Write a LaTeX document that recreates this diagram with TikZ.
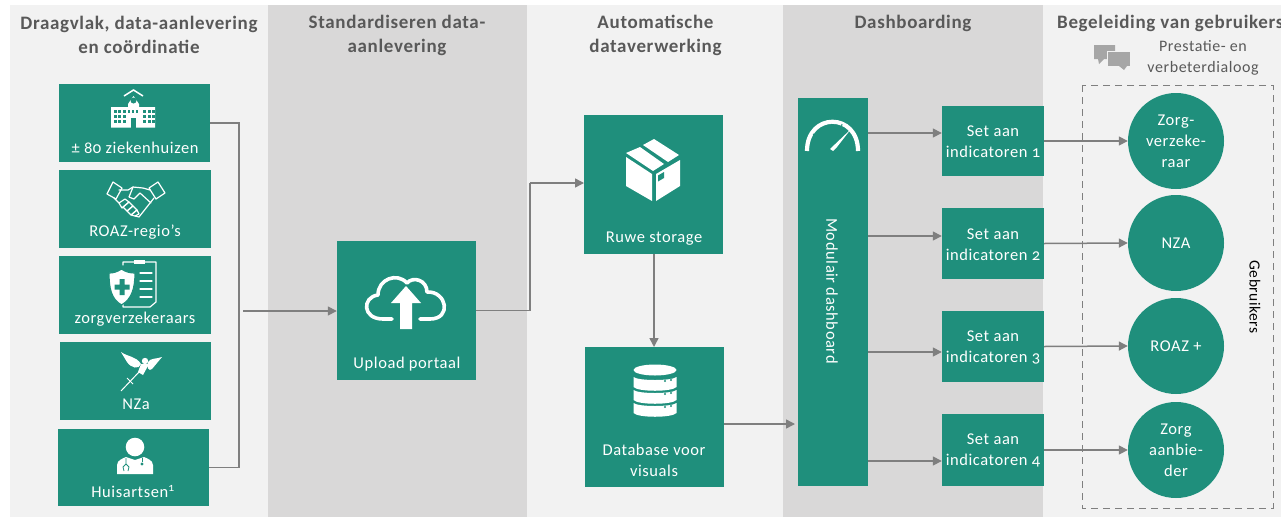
\documentclass[tikz,border=0pt]{standalone}
\usepackage{fontspec}
\setmainfont{Carlito}[Numbers=OldStyle,LetterSpace=3.5]
\usetikzlibrary{arrows.meta,calc}
\definecolor{teal}{HTML}{1F8F7C}
\definecolor{bandL}{HTML}{F2F2F2}
\definecolor{bandD}{HTML}{D9D8D8}
\definecolor{conn}{HTML}{7F7F7F}
\definecolor{txt}{HTML}{595959}
\tikzset{
  x=1pt,y=-1pt,
  band/.style={draw=none,inner sep=0pt,minimum height=512pt,anchor=north west},
  tbox/.style={draw=none,fill=teal,inner sep=0pt},
  ucirc/.style={circle,fill=teal,inner sep=0pt,minimum size=96pt},
  conline/.style={draw=conn,line width=1.5pt},
  conarrow/.style={conline,-{Triangle[length=9pt,width=9pt]}},
  head/.style={text=txt,font=\fontsize{19}{24}\selectfont\bfseries,align=center,inner sep=0pt},
  sub/.style={text=txt,font=\fontsize{16}{21}\selectfont,align=center,inner sep=0pt},
  lab/.style={text=white,font=\fontsize{16.5}{21}\selectfont,align=center,inner sep=0pt},
  wline/.style={draw=white,line width=1.2pt,line join=round,line cap=round},
  tline/.style={draw=teal,line width=1.2pt,line join=round,line cap=round},
}
\newcommand{\tbx}[5]{\node[tbox,minimum width=#4pt,minimum height=#5pt] (#1) at (#2,#3) {};}
\begin{document}
\begin{tikzpicture}
\useasboundingbox (0,0) rectangle (1281,517);
\fill[white] (0,0) rectangle (1281,517);
% bands
\node[band,fill=bandL,minimum width=258pt] (band1) at (10,5) {};
\node[band,fill=bandD,minimum width=259pt] (band2) at (268,5) {};
\node[band,fill=bandL,minimum width=256pt] (band3) at (527,5) {};
\node[band,fill=bandD,minimum width=260pt] (band4) at (783,5) {};
\node[band,fill=bandL,minimum width=238pt] (band5) at (1043,5) {};
% headers
\node[head] (h1) at (139,35) {Draagvlak, data-aanlevering\\en coördinatie};
\node[head] (h2) at (397,35) {Standardiseren data-\\aanlevering};
\node[head] (h3) at (655.5,35) {Automatische\\dataverwerking};
\node[head] (h4) at (913,23) {Dashboarding};
\node[head,anchor=west] (h5) at (1057,23) {Begeleiding van gebruikers};
\node[sub] (h5b) at (1203,58) {Prestatie- en\\verbeterdialoog};
% bubbles
\fill[black!35] (1094,45) rectangle (1115,59) (1098,59)--(1104,59)--(1099,64)--cycle;
\fill[black!35,draw=bandL,line width=1pt] (1107,51) rectangle (1130,66);
\fill[black!35] (1119,66)--(1127,66)--(1124,70)--cycle;
% dashed
\draw[dashed,draw=conn,line width=1pt,dash pattern=on 7pt off 5pt] (1082,85) rectangle (1273,508);
\node[text=black,font=\fontsize{15.5}{17}\selectfont,rotate=-90,inner sep=0pt] (geb) at (1255,297) {Gebruikers};
% left boxes
\tbx{b1}{134.5}{123}{151}{78}
\tbx{b2}{135}{209}{152}{78}
\tbx{b3}{135}{295}{152}{78}
\tbx{b4}{135.5}{381}{151}{78}
\tbx{b5}{133}{467.5}{151}{77}
\node[lab] (l1) at (135,147.5) {± 80 ziekenhuizen};
\node[lab] (l2) at (135,232.5) {ROAZ-regio's};
\node[lab] (l3) at (135,319.5) {zorgverzekeraars};
\node[lab] (l4) at (136,404.5) {NZa};
\node[lab] (l5) at (133,491.5) {Huisartsen\textsuperscript{1}};
% hospital icon
\fill[white] (111,107) -- (128,107) -- (128,104) -- (133.5,96) -- (139,104) -- (139,107) -- (155,107) -- (155,127.5) -- (111,127.5) -- cycle;
\draw[white,line width=1.5pt] (124,96) -- (133.5,90) -- (143,96);
\foreach \xx in {113.5,118,122.5,143,147.5,152} \foreach \yy in {110,115,120}
  \fill[teal] (\xx,\yy) rectangle ++(3,3);
\foreach \xx in {127.5,131.5,135.5} \fill[teal] (\xx,110) rectangle ++(2.5,3);
\fill[teal] (131,118) rectangle (136,127.5);
\fill[teal] (133.5,100.5) circle (3);
% handshake icon
\draw[wline] (107,194) -- (113,182) -- (122,188) -- (116,199) -- cycle;
\draw[wline] (165,193) -- (158,182) -- (149,188) -- (156,199) -- cycle;
\draw[wline] (119,190) -- (128,190) -- (133,187) -- (143,188) -- (150,190);
\draw[wline] (114,198) -- (119,203);
\draw[wline] (154,198) -- (139,217) -- (135,216);
\draw[wline] (133,187) -- (129,197) -- (134,199) -- (140,193) -- (151,203);
\draw[wline] (119,203) -- (125,199) -- (129,202) -- (122,208) -- cycle;
\draw[wline] (123,207) -- (129,202) -- (133,206) -- (127,211) -- cycle;
\draw[wline] (127,211) -- (133,206) -- (137,210) -- (131,215) -- cycle;
\draw[wline] (131,215) -- (137,210) -- (139,214) -- (135,216) -- cycle;
% shield + clipboard icon
\draw[wline] (123,265) -- (123,262) -- (156,262) -- (156,302) -- (150,307) -- (123,307) -- (123,302);
\fill[white] (134,259.5) rectangle (145,264);
\draw[wline] (140,273) -- (152,273) (140,281) -- (152,281) (140,289) -- (152,289) (140,297) -- (152,297);
\fill[white,draw=teal,line width=1.2pt] (121.5,269) .. controls (117,272) and (113,273) .. (109,273) .. controls (109,288) and (111,299) .. (121.5,305) .. controls (132,299) and (135,288) .. (135,273) .. controls (130,273) and (126,272) .. (121.5,269) -- cycle;
\fill[teal] (119.5,279) rectangle (124.5,295) (114.5,284.5) rectangle (129.5,289.5);
% wings icon
\fill[white] (121,352) .. controls (128,357) and (136,356) .. (141,364) .. controls (139,370) and (131,368) .. (127,362) -- cycle;
\fill[white] (162,357) .. controls (157,359) and (150,358) .. (148,362) .. controls (146,367) and (149,372) .. (152,369) -- cycle;
\fill[white] (145,361) circle (3.2);
\fill[white] (141,364) -- (149,364) -- (143,375) -- (138,372) -- cycle;
\draw[white,line width=1pt] (139,372) -- (121,391);
\draw[white,line width=1pt] (127,378) -- (133,384);
% doctor icon
\fill[white] (135,447) circle (9.3);
\fill[white] (117,474) -- (117,465) .. controls (117,460) and (124,458) .. (126,457) -- (135,460) -- (144,457) .. controls (146,458) and (153,460) .. (153,465) -- (153,474) -- cycle;
\draw[teal,line width=0.8pt] (126,458) -- (126,464) (124,471) -- (123,467) -- (126,464) -- (129,467) -- (128,471);
\draw[teal,line width=0.8pt] (142,458) -- (142,462);
\fill[teal] (142,464) circle (1.7);
% bus lines
\coordinate (bus) at (239,300);
\coordinate (inflow) at (243,311);
\draw[conline] (b1.east) -| (bus) |- (b5.east);
% upload
\tbx{up}{406.5}{310.5}{139}{139}
\node[lab] (lup) at (407,364.5) {Upload portaal};
\draw[conarrow] (inflow) -- (inflow -| up.west);
% cloud
\draw[white,line width=3.6pt,line join=round,line cap=round] (392,319) -- (383,319) .. controls (362,319) and (362,297) .. (378,295) .. controls (378,279) and (397,272) .. (407,283) .. controls (413,276) and (427,280) .. (427,292) .. controls (447,291) and (452,319) .. (430,319) -- (420,319);
\fill[white] (406,286) -- (421,303) -- (412,303) -- (412,329) -- (400,329) -- (400,303) -- (391,303) -- cycle;
% ruwe storage
\tbx{rs}{653.5}{184.5}{139}{139}
\node[lab] (lrs) at (654,238.5) {Ruwe storage};
\coordinate (elbowA) at (530,250);
\coordinate (rsin) at (584,183);
\draw[conline] (up.east) -| (elbowA |- rsin) -- (530,183);
\draw[conarrow] (530,183) -- (rsin);
% box icon
\fill[white] (626,157) -- (652,174) -- (652,201) -- (626,186) -- cycle;
\fill[white] (656,174) -- (680,160) -- (680,186) -- (656,201) -- cycle;
\fill[white] (626,153) -- (640,147) -- (664,164) -- (653,171) -- cycle;
\fill[white] (643,145) -- (654,139) -- (679,155) -- (668,162) -- cycle;
\fill[teal] (658,175.5) -- (664,172) -- (664,178) -- (658,181.5) -- cycle;
% database
\tbx{db}{654.5}{417}{139}{140}
\node[lab] (ldb) at (654,460) {Database voor\\visuals};
\draw[conarrow] (rs.south -| 654,254) -- (654,347);
\fill[white] (655,370) ellipse [x radius=21.5,y radius=5.5];
\foreach \yy in {375,388,401}
  \fill[white] (633.5,\yy+2) .. controls (638,\yy+6) and (672,\yy+6) .. (676.5,\yy+2) -- (676.5,\yy+12) .. controls (672,\yy+17) and (638,\yy+17) .. (633.5,\yy+12) -- cycle;
\foreach \yy in {381,394,407} \fill[teal] (665,\yy) circle (1.2) (671,\yy-1) circle (1.2);
% dashboard
\tbx{dash}{833}{292}{70}{388}
\node[lab,rotate=-90] (ldash) at (832,291) {Modulair dashboard};
\coordinate (dbout) at (724,424);
\draw[conarrow] (dbout) -- (795,424);
% gauge
\draw[white,line width=4.2pt] (807,151) .. controls (807,112) and (858,112) .. (858,151);
\draw[teal,line width=1pt] (813,134) -- (818,137) (821,128) -- (825,132) (831,124) -- (833,129) (842,124) -- (841,129);
\fill[white] (851,129) -- (837,147) -- (833,151) -- (830,149) -- cycle;
% set boxes
\tbx{s1}{993}{141}{102}{70}
\tbx{s2}{993}{243.5}{102}{71}
\tbx{s3}{993}{346.5}{102}{71}
\tbx{s4}{993}{450}{102}{72}
\node[lab] (ls1) at (993,142) {Set aan\\indicatoren 1};
\node[lab] (ls2) at (993,244.5) {Set aan\\indicatoren 2};
\node[lab] (ls3) at (993,347.5) {Set aan\\indicatoren 3};
\node[lab] (ls4) at (993,450.5) {Set aan\\indicatoren 4};
\coordinate (d1) at (868,133);
\coordinate (d2) at (868,236);
\coordinate (d3) at (868,352);
\coordinate (d4) at (868,461);
\foreach \dd/\ss in {d1/s1,d2/s2,d3/s3,d4/s4}
  \draw[conarrow] (\dd) -- (\dd -| \ss.west);
% user circles
\node[ucirc] (c1) at (1176,141) {};
\node[ucirc] (c2) at (1176,243) {};
\node[ucirc] (c3) at (1176,346) {};
\node[ucirc] (c4) at (1176,450) {};
\node[lab] (lc1) at (1176,141.5) {Zorg-\\verzeke-\\raar};
\node[lab] (lc2) at (1176,243.5) {NZA};
\node[lab] (lc3) at (1176,346.5) {ROAZ +};
\node[lab] (lc4) at (1176,450.5) {Zorg\\aanbie-\\der};
\foreach \ss/\cc in {s1/c1,s2/c2,s3/c3,s4/c4}
  \draw[conarrow] (\ss.east) -- (\cc.west);
\end{tikzpicture}
\end{document}
